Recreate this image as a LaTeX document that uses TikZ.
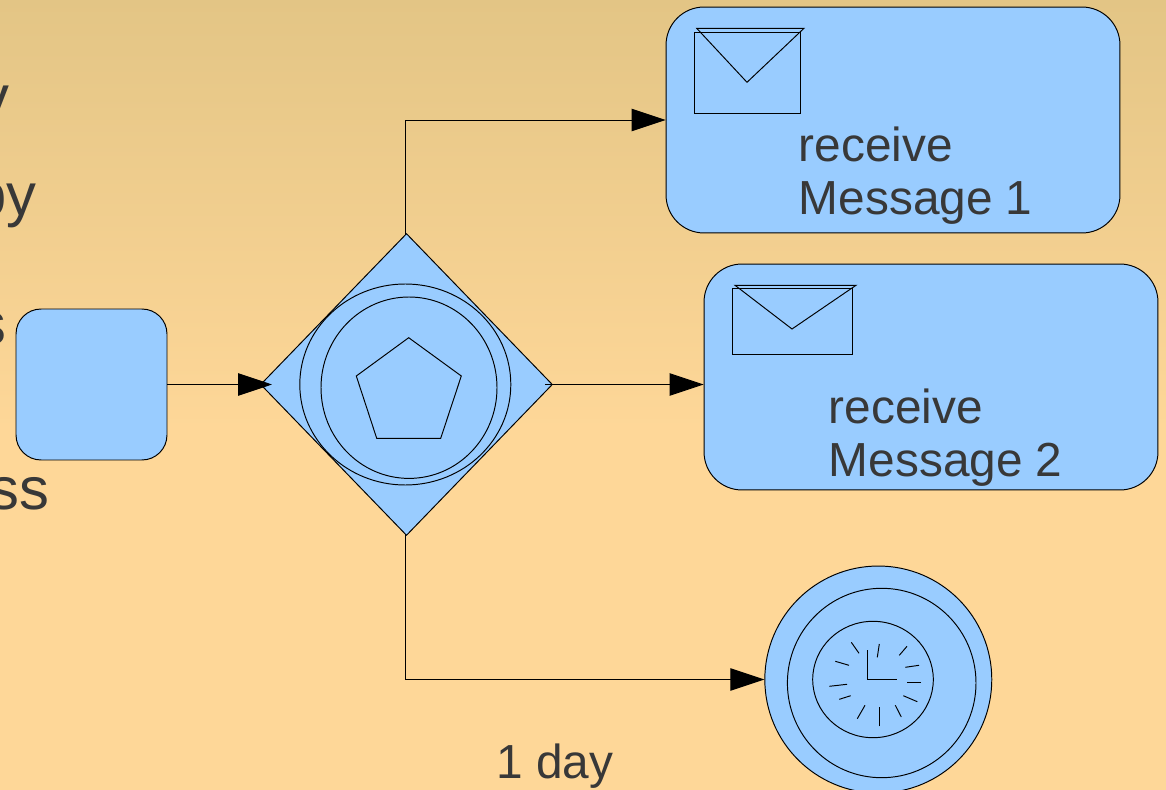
\documentclass[tikz,border=0pt]{standalone}
\usepackage{fontspec}
\setmainfont{Liberation Sans}
\usetikzlibrary{arrows.meta,shapes.geometric}
\definecolor{flowblue}{HTML}{99CCFF}
\definecolor{paper}{HTML}{FED798}
\definecolor{papertop}{HTML}{E3C585}
\definecolor{inktext}{HTML}{383838}
\tikzset{
  flowline/.style={line width=0.55pt,black},
  flowarrow/.style={flowline,-{Triangle[length=0.68cm,width=0.45cm]}},
  flowbox/.style={draw=black,line width=0.55pt,fill=flowblue,rectangle,inner sep=0pt},
  flowtext/.style={text=inktext,font=\fontsize{27.2}{30.1}\selectfont,inner sep=0pt,align=left},
  cuttext/.style={text=inktext,font=\fontsize{34}{36}\selectfont,inner sep=0pt}
}

\begin{document}
\begin{tikzpicture}[x=0.02cm,y=-0.02cm]
  \useasboundingbox (0,0) rectangle (1166,790);
  \fill[paper] (0,0) rectangle (1166,790);
  \shade[top color=papertop,bottom color=paper] (0,0) rectangle (1166,430);
  % text cut off at the left edge
  \node[cuttext,anchor=base east] (lineone) at (10,118) {y};
  \node[cuttext,anchor=base east] (linetwo) at (37,216) {by};
  \node[cuttext,anchor=base east] (linethree) at (7,345) {s};
  \node[cuttext,anchor=base east] (linefour) at (50,509) {ss};
  % boxes
  \node[flowbox,rounded corners=0.5cm,minimum width=3.02cm,minimum height=3.02cm] (start) at (91.5,384.5) {};
  \node[flowbox,rounded corners=0.76cm,minimum width=9.08cm,minimum height=4.52cm] (msgone) at (893,120) {};
  \node[flowbox,rounded corners=0.76cm,minimum width=9.08cm,minimum height=4.52cm] (msgtwo) at (931,377) {};
  \node[flowbox,diamond,minimum width=5.84cm,minimum height=6.04cm,aspect=1] (gate) at (406.5,384.5) {};
  \node[flowbox,circle,minimum size=4.54cm] (timer) at (878.3,679.5) {};
  \coordinate (gatein) at (272,384.5);
  \coordinate (gateout) at (545,384.5);
  % connectors
  \draw[flowarrow] (start.east) -- (gatein);
  \draw[flowarrow] (gate.north) ++(-1.5,1.5) |- (msgone.west);
  \draw[flowarrow] (gateout) -- (gateout -| msgtwo.west);
  \draw[flowarrow] (gate.south) ++(-1.5,-1.5) |- (timer.west);
  % gateway marker
  \draw[flowline] (405.3,384.5) ellipse [x radius=105.5,y radius=100.5];
  \draw[flowline] (409,387.7) ellipse [x radius=88,y radius=90.7];
  \draw[flowline] (408.7,337.7) -- (461.3,376) -- (440.7,438.3) -- (376.7,438.3) -- (356.3,376) -- cycle;
  % envelopes
  \draw[flowline] (694.7,32.3) rectangle (800.7,113.3);
  \draw[flowline] (696.7,28.3) -- (804,28.3) -- (747,82.3) -- cycle;
  \draw[flowline] (732.5,288.3) rectangle (852.5,354.5);
  \draw[flowline] (735,285.3) -- (856,285.3) -- (792,329) -- cycle;
  % clock
  \draw[flowline] (881.7,683) ellipse [x radius=94.3,y radius=94.7];
  \draw[flowline] (873,679.5) ellipse [x radius=60.3,y radius=58.2];
  \draw[flowline] (867,650) -- (867,679.3) -- (897.3,679.3);
  \foreach \xa/\ya/\xb/\yb in {879.3/644/877.3/657.3,907/646.3/899.3/655.3,919/665.3/905.3/667.3,
    921/682.3/907.3/682.3,917.3/701.7/903.3/695.7,901.3/717/895.3/705.3,879/726.3/879/707.3,
    865/705.3/857.3/718.7,850.7/695.7/839.3/699.3,847/684.3/829.3/686.3,849/665.3/835.3/661.3,
    859/653.3/851.3/642.3}
    \draw[flowline] (\xa,\ya) -- (\xb,\yb);
  % labels
  \node[flowtext,anchor=base west] (msgonetext) at (798.5,214.5) {receive\\Message 1};
  \node[flowtext,anchor=base west] (msgtwotext) at (828.5,476.5) {receive\\Message 2};
  \node[flowtext,anchor=base west] (timertext) at (496,778) {1 day};
\end{tikzpicture}
\end{document}
